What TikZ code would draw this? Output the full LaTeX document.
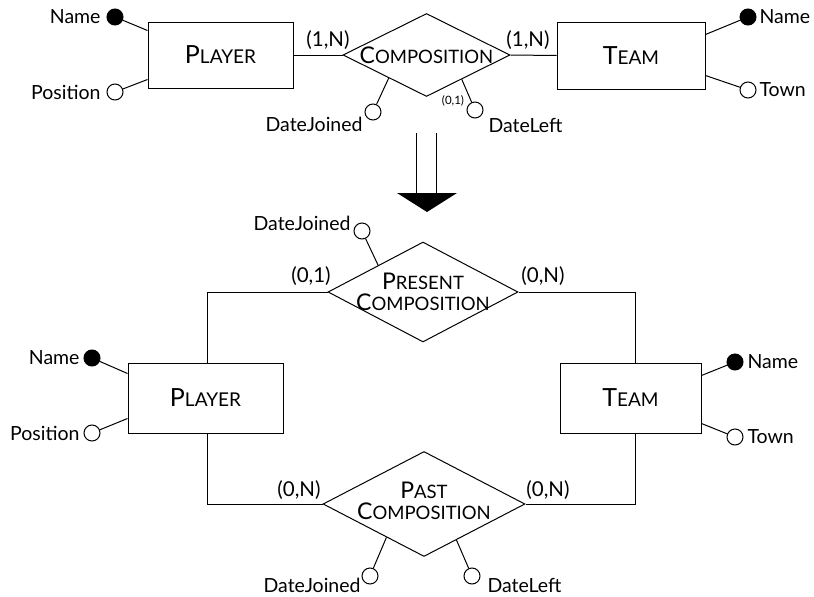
\documentclass[tikz,border=0pt]{standalone}
\usepackage{fontspec}
\setmainfont{Lato}
\usetikzlibrary{shapes.geometric,calc}
\newcommand{\entname}[2]{{\fontsize{25}{25}\selectfont #1}{\fontsize{19}{19}\selectfont #2}}
\newcommand{\relname}[2]{{\fontsize{23}{21.5}\selectfont #1}#2}
\begin{document}
\begin{tikzpicture}[x=1pt,y=-1pt,line width=1pt,
  entbox/.style={draw,rectangle,inner sep=0pt},
  reldia/.style={draw,diamond,inner sep=0pt},
  idattr/.style={draw,circle,fill=black,minimum size=16pt,inner sep=0pt},
  attr/.style={draw,circle,fill=white,minimum size=16pt,inner sep=0pt},
  txt/.style={inner sep=0pt,font=\fontsize{19.5}{19.5}\selectfont},
  cardtxt/.style={inner sep=0pt,font=\fontsize{20.5}{20.5}\selectfont},
  smallcard/.style={inner sep=0pt,font=\fontsize{11.5}{11.5}\selectfont},
  reltext/.style={align=center,inner sep=0pt,font=\fontsize{18.5}{21.5}\selectfont}]
\useasboundingbox (0,0) rectangle (814,597);

% ---------------- top schema ----------------
\node[entbox,minimum width=145pt,minimum height=66pt] (p1) at (220.5,55) {\entname{P}{LAYER}};
\node[entbox,minimum width=148pt,minimum height=67pt] (t1) at (631,55.5) {\entname{T}{EAM}};
\node[reldia,minimum width=167pt,minimum height=83pt] (c1) at (426.5,55) {};
\node[reltext] (c1t) at (c1.center) {\relname{C}{OMPOSITION}};

\draw (p1.east) -- (c1.west);
\draw (c1.east) -- (t1.west);
\node[cardtxt] (c1l) at (328,40) {(1,N)};
\node[cardtxt] (c1r) at (528,40) {(1,N)};

\node[idattr] (p1n) at (115,17) {};
\node[attr] (p1p) at (115,92) {};
\node[txt,anchor=east] (p1nt) at (101,17) {Name};
\node[txt,anchor=east] (p1pt) at (101,92) {Position};
\draw ($(p1.north west)+(0,9)$) -- (p1n);
\draw ($(p1.south west)+(0,-9)$) -- (p1p);

\node[idattr] (t1n) at (748,17) {};
\node[attr] (t1w) at (748,90) {};
\node[txt,anchor=west] (t1nt) at (759,17) {Name};
\node[txt,anchor=west] (t1wt) at (759,90) {Town};
\draw ($(t1.north east)+(0,13)$) -- (t1n);
\draw ($(t1.south east)+(0,-14)$) -- (t1w);

\node[attr] (c1j) at (373,112) {};
\node[attr] (c1d) at (475,110) {};
\node[txt,anchor=east] (c1jt) at (363,124) {DateJoined};
\node[txt,anchor=west] (c1dt) at (488,125) {DateLeft};
\node[smallcard] (c1dc) at (453,101) {(0,1)};
\draw ($(c1.west)!0.55!(c1.south)$) -- (c1j);
\draw ($(c1.east)!0.58!(c1.south)$) -- (c1d);

% ---------------- transformation arrow ----------------
\draw (416,133) -- (416,193);
\draw (436,133) -- (436,193);
\fill (397,193) -- (457,193) -- (427,212) -- cycle;

% ---------------- bottom schema ----------------
\node[entbox,minimum width=155pt,minimum height=70pt] (p2) at (205.5,398) {\entname{P}{LAYER}};
\node[entbox,minimum width=141pt,minimum height=70pt] (t2) at (630.5,398) {\entname{T}{EAM}};
\node[reldia,minimum width=190pt,minimum height=100pt] (pc) at (423,292) {};
\node[reltext] (pct) at (pc.center) {\relname{P}{RESENT}\\\relname{C}{OMPOSITION}};
\node[reldia,minimum width=202pt,minimum height=105pt] (pa) at (424,504) {};
\node[reltext] (pat) at (424,501) {\relname{P}{AST}\\\relname{C}{OMPOSITION}};

\coordinate (p2top) at ($(p2.north west)+(80,0)$);
\coordinate (p2bot) at ($(p2.south west)+(80,0)$);
\coordinate (t2top) at ($(t2.north west)+(76,0)$);
\coordinate (t2bot) at ($(t2.south west)+(76,0)$);
\draw (p2top) |- (pc.west);
\draw (t2top) |- (pc.east);
\draw (p2bot) |- (pa.west);
\draw (t2bot) |- (pa.east);

\node[cardtxt] (pcl) at (311,276) {(0,1)};
\node[cardtxt] (pcr) at (543,276) {(0,N)};
\node[cardtxt] (pal) at (299,490) {(0,N)};
\node[cardtxt] (par) at (548,490) {(0,N)};

\node[idattr] (p2n) at (92,358) {};
\node[attr] (p2p) at (92,433) {};
\node[txt,anchor=east] (p2nt) at (80,358) {Name};
\node[txt,anchor=east] (p2pt) at (80,433) {Position};
\draw ($(p2.north west)+(0,11)$) -- (p2n);
\draw ($(p2.south west)+(0,-15)$) -- (p2p);

\node[idattr] (t2n) at (735,362) {};
\node[attr] (t2w) at (735,437) {};
\node[txt,anchor=west] (t2nt) at (747,362) {Name};
\node[txt,anchor=west] (t2wt) at (747,437) {Town};
\draw ($(t2.north east)+(0,13)$) -- (t2n);
\draw ($(t2.south east)+(0,-10)$) -- (t2w);

\node[attr] (pcj) at (362,231) {};
\node[txt,anchor=east] (pcjt) at (351,223) {DateJoined};
\draw ($(pc.west)!0.53!(pc.north)$) -- (pcj);

\node[attr] (paj) at (370,576) {};
\node[attr] (pad) at (472,576) {};
\node[txt,anchor=east] (pajt) at (361,585) {DateJoined};
\node[txt,anchor=west] (padt) at (487,585) {DateLeft};
\draw ($(pa.west)!0.63!(pa.south)$) -- (paj);
\draw ($(pa.east)!0.68!(pa.south)$) -- (pad);
\end{tikzpicture}
\end{document}
